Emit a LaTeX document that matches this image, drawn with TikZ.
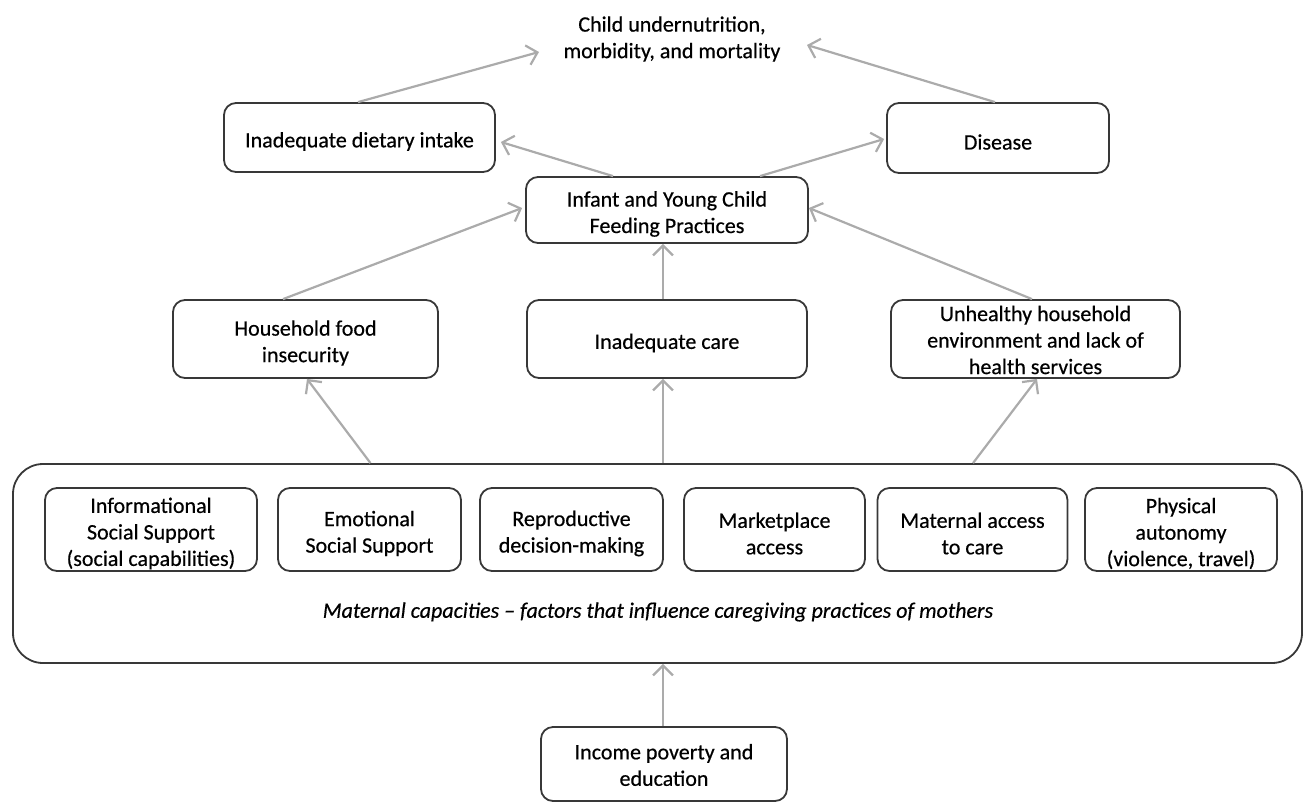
\documentclass[tikz,border=0pt]{standalone}
\usepackage{fontspec}
\setmainfont{Carlito}[FakeBold=0.5]
\usetikzlibrary{arrows.meta}
\begin{document}
\begin{tikzpicture}[x=1pt,y=-1pt,
  txt/.style={align=center, font=\fontsize{22}{26.5}\selectfont, inner sep=0pt},
  box/.style={draw=black!78, line width=1.8pt, rounded corners=12pt, inner sep=0pt},
  lbl/.style={label={[txt,yshift=-4pt]center:{#1}}},
  lblhigh/.style={label={[txt,yshift=-1pt]center:{#1}}},
  arr/.style={draw=black!33, line width=2.2pt, -{Straight Barb[length=10pt,width=20pt,line width=2.2pt]}},
]
\useasboundingbox (0,0) rectangle (1303,804);
% top outcome
\node[txt] (title) at (672,39) {Child undernutrition,\\morbidity, and mortality};
\node[box, minimum width=271pt, minimum height=69pt, lbl={Inadequate dietary intake}] (diet) at (359.5,137.5) {};
\node[box, minimum width=222pt, minimum height=70pt, lbl={Disease}] (dis) at (998,138) {};
\node[box, minimum width=282pt, minimum height=66pt, lbl={Infant and Young Child\\Feeding Practices}] (iycf) at (667,210) {};
% middle row
\node[box, minimum width=265pt, minimum height=78pt, lbl={Household food\\insecurity}] (hfi) at (305.5,339) {};
\node[box, minimum width=280pt, minimum height=78pt, lbl={Inadequate care}] (care) at (667,339) {};
\node[box, minimum width=289pt, minimum height=78pt, lblhigh={Unhealthy household\\environment and lack of\\health services}] (unh) at (1035.5,339) {};
% maternal capacities
\node[box, rounded corners=30pt, minimum width=1289pt, minimum height=199pt] (big) at (657.5,563.5) {};
\node[box, minimum width=212pt, minimum height=83pt, lbl={Informational\\Social Support\\(social capabilities)}] (info) at (151,529.5) {};
\node[box, minimum width=183pt, minimum height=83pt, lbl={Emotional\\Social Support}] (emo) at (369.5,529.5) {};
\node[box, minimum width=183pt, minimum height=83pt, lbl={Reproductive\\decision-making}] (repro) at (571.5,529.5) {};
\node[box, minimum width=181pt, minimum height=83pt, lbl={Marketplace\\access}] (market) at (774.5,529.5) {};
\node[box, minimum width=190pt, minimum height=83pt, lbl={Maternal access\\to care}] (matacc) at (972.5,529.5) {};
\node[box, minimum width=192pt, minimum height=83pt, lbl={Physical\\autonomy\\(violence, travel)}] (phys) at (1181,529.5) {};
\node[txt, font=\fontsize{22}{26.5}\selectfont\itshape] (cap) at (658,612) {Maternal capacities -- factors that influence caregiving practices of mothers};
% income
\node[box, minimum width=246pt, minimum height=74pt, lblhigh={Income poverty and\\education}] (inc) at (664,764) {};
% arrows
\draw[arr] ([xshift=-1.5pt]diet.north) -- ([xshift=-133pt,yshift=-13pt]title.center);
\draw[arr] ([xshift=-3pt]dis.north) -- ([xshift=135pt,yshift=-6pt]title.center);
\draw[arr] ([xshift=-54pt]iycf.north) -- ([xshift=5pt,yshift=-4.5pt]diet.east);
\draw[arr] ([xshift=93pt]iycf.north) -- ([xshift=-2pt,yshift=-1pt]dis.west);
\draw[arr] ([xshift=-22.5pt]hfi.north) -- ([xshift=-3pt,yshift=2pt]iycf.west);
\draw[arr] ([xshift=-4pt]care.north) -- ([xshift=-4pt]iycf.south);
\draw[arr] ([xshift=-3.5pt]unh.north) -- ([yshift=2pt]iycf.east);
\draw[arr] ([xshift=-287pt]big.north) -- ([xshift=1.5pt]hfi.south);
\draw[arr] ([xshift=5.5pt]big.north) -- ([xshift=-4pt]care.south);
\draw[arr] ([xshift=315.5pt]big.north) -- ([xshift=1.5pt]unh.south);
\draw[arr] ([xshift=-1pt]inc.north) -- ([xshift=5.5pt]big.south);
\end{tikzpicture}
\end{document}
